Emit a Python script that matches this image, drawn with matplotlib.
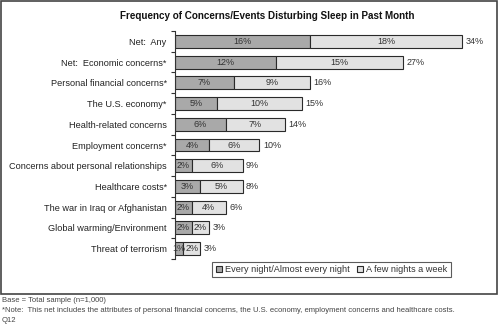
import matplotlib
matplotlib.use("Agg")
import matplotlib.pyplot as plt
from matplotlib.patches import Rectangle, Patch

categories = ["Net:  Any", "Net:  Economic concerns*", "Personal financial concerns*",
              "The U.S. economy*", "Health-related concerns", "Employment concerns*",
              "Concerns about personal relationships", "Healthcare costs*",
              "The war in Iraq or Afghanistan", "Global warming/Environment",
              "Threat of terrorism"]
every_night = [16, 12, 7, 5, 6, 4, 2, 3, 2, 2, 1]
few_nights = [18, 15, 9, 10, 7, 6, 6, 5, 4, 2, 2]
totals = [34, 27, 16, 15, 14, 10, 9, 8, 6, 3, 3]
legend_labels = ["Every night/Almost every night", "A few nights a week"]

plt.rcParams["font.family"] = ["Liberation Sans", "DejaVu Sans"]

dark = "#a9a9a9"
light = "#e2e2e2"
edge = "#2a2a2a"
txt = "#333333"

fig = plt.figure(figsize=(5.0, 3.24), dpi=100)
ax = fig.add_axes([0.35, 0.2006, 0.642, 0.7037])

y = list(range(len(categories)))
ax.barh(y, every_night, height=0.62, color=dark, edgecolor=edge, linewidth=0.8)
ax.barh(y, few_nights, left=every_night, height=0.62, color=light,
        edgecolor=edge, linewidth=0.8)

# etiquetas dentro e no fim das barras
for i in y:
    ax.text(every_night[i] / 2, i, f"{every_night[i]}%", ha="center", va="center",
            fontsize=6.5, color=txt)
    ax.text(every_night[i] + few_nights[i] / 2, i, f"{few_nights[i]}%", ha="center",
            va="center", fontsize=6.5, color=txt)
    ax.text(every_night[i] + few_nights[i] + 0.4, i, f"{totals[i]}%", ha="left",
            va="center", fontsize=6.5, color=txt)

ax.set_xlim(0, 38)
ax.set_ylim(len(categories) - 0.5, -0.5)
ax.set_yticks(y)
ax.set_yticklabels(categories, fontsize=6.6, color="#222222")
ax.tick_params(axis="y", which="major", length=0, pad=6)
ax.set_yticks([i - 0.5 for i in range(len(categories) + 1)], minor=True)
ax.tick_params(axis="y", which="minor", length=3, width=0.8, color=txt)
ax.set_xticks([])
for s in ["top", "right", "bottom"]:
    ax.spines[s].set_visible(False)
ax.spines["left"].set_color(txt)
ax.spines["left"].set_linewidth(0.8)

handles = [Patch(facecolor=dark, edgecolor=edge, linewidth=0.8),
           Patch(facecolor=light, edgecolor=edge, linewidth=0.8)]
leg = fig.legend(handles, legend_labels, loc="center", bbox_to_anchor=(0.663, 0.168),
                 ncol=2, fontsize=6.6, frameon=True, fancybox=False,
                 handlelength=0.7, handleheight=0.7, handletextpad=0.3,
                 columnspacing=0.8, borderpad=0.35)
for t in leg.get_texts():
    t.set_color(txt)
leg.get_frame().set_edgecolor(txt)
leg.get_frame().set_linewidth(0.8)

fig.text(0.535, 0.952, "Frequency of Concerns/Events Disturbing Sleep in Past Month",
         ha="center", va="center", fontsize=7.1, fontweight="bold", color="#111111")

# moldura
fig.patches.append(Rectangle((0.002, 1 - 294 / 324), 0.992, 294 / 324 - 0.003,
                             transform=fig.transFigure, fill=False,
                             edgecolor="#444444", linewidth=1.2))

notes = ["Base = Total sample (n=1,000)",
         "*Note:  This net includes the attributes of personal financial concerns, "
         "the U.S. economy, employment concerns and healthcare costs.",
         "Q12"]
for k, line in enumerate(notes):
    fig.text(0.004, 1 - (301 + k * 10) / 324, line, ha="left", va="center",
             fontsize=5.5, color="#444444")

fig.savefig("out.png", dpi=100)
